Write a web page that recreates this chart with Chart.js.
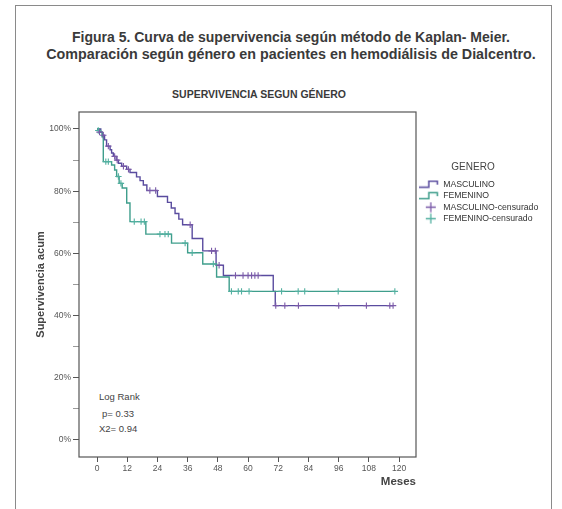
<!DOCTYPE html>
<html>
<head>
<meta charset="utf-8">
<script src="https://cdn.jsdelivr.net/npm/chart.js@4/dist/chart.umd.min.js"></script>
<style>
  html,body{margin:0;padding:0;background:#fff;}
  body{width:562px;height:509px;position:relative;overflow:hidden;font-family:"Liberation Sans",Arial,sans-serif;}
  #frame{position:absolute;left:15px;top:5px;width:537px;height:520px;border:1.5px solid #8a8a8a;box-sizing:border-box;}
  .t{position:absolute;white-space:nowrap;color:#3a3a3a;}
  #c{position:absolute;left:0;top:0;}
</style>
</head>
<body>
<div id="frame"></div>
<div class="t" id="t1" style="left:0;width:582px;text-align:center;top:29px;font-weight:bold;font-size:14px;">Figura 5. Curva de supervivencia según método de Kaplan- Meier.</div>
<div class="t" id="t2" style="left:0;width:582px;text-align:center;top:46px;font-weight:bold;font-size:14.3px;">Comparación según género en pacientes en hemodiálisis de Dialcentro.</div>
<div class="t" id="t3" style="left:0;width:518px;text-align:center;top:88px;font-weight:bold;font-size:10.5px;">SUPERVIVENCIA SEGUN GÉNERO</div>
<div class="t" style="left:99px;top:391px;font-size:9.5px;color:#444;">Log Rank</div>
<div class="t" style="left:102px;top:408px;font-size:9.5px;color:#444;">p= 0.33</div>
<div class="t" style="left:99px;top:423px;font-size:9.5px;color:#444;">X2= 0.94</div>
<canvas id="c" width="562" height="509"></canvas>
<script>
// ---- data (months, % cumulative survival) ----
const mascEventMonths = [0, 1.5, 2.2, 3, 3.8, 5.2, 5.8, 6.5, 7.6, 8.5, 9.8, 11.8, 13.1, 15.7, 17.1, 18.4, 19.8, 24, 28, 29.5, 31, 32.5, 34, 37.8, 42, 47.3, 50.2, 70, 70.8, 117.6];
const mascSurvival    = [100, 99, 98, 96.5, 94.5, 93.3, 92.3, 91.2, 90, 89, 88, 87, 86, 84.6, 83.4, 82, 80.2, 78.3, 76.4, 74.6, 72.8, 71, 69.2, 64.8, 60.8, 56.2, 52.9, 47.8, 43.2, 43.2];

const femEventMonths  = [0, 1, 2, 2.5, 5.8, 7, 7.8, 8.8, 10, 11.8, 13.1, 19.4, 29.6, 36, 42, 47.5, 52.5, 118.3];
const femSurvival     = [100, 99, 97.5, 89.5, 88.4, 86.8, 84.7, 82.5, 81, 76.2, 70.2, 66.2, 63.3, 60.2, 56.6, 52.4, 47.8, 47.8];

const mascCensorMonths = [1, 2.5, 4.5, 7, 8, 10.5, 12.5, 21, 23.3, 37, 45.5, 47, 48.5, 55, 58, 60, 61.4, 62.7, 64, 71, 74.6, 80, 96, 107, 116.3, 117.6];
const mascCensorSurv   = [99, 98, 94.5, 91.2, 90, 88, 87, 80.2, 80.2, 69.2, 60.8, 60.8, 56.2, 52.9, 52.9, 52.9, 52.9, 52.9, 52.9, 43.2, 43.2, 43.2, 43.2, 43.2, 43.2, 43.2];

const femCensorMonths  = [0.5, 3.5, 4.5, 8.5, 9.5, 14.8, 17.5, 18.8, 25, 27, 28.3, 35, 37.8, 46.2, 53.4, 56.1, 57.4, 60.4, 73.3, 79.9, 82.5, 95.8, 118.3];
const femCensorSurv    = [99.5, 89.5, 89.5, 84.7, 82.5, 70.2, 70.2, 70.2, 66.2, 66.2, 66.2, 63.3, 60.2, 56.6, 47.8, 47.8, 47.8, 47.8, 47.8, 47.8, 47.8, 47.8, 47.8];

const xTickValues = [0, 12, 24, 36, 48, 60, 72, 84, 96, 108, 120];
const yTickValues = [0, 10, 20, 30, 40, 50, 60, 70, 80, 90, 100];
const seriesNames = ['MASCULINO', 'FEMENINO', 'MASCULINO-censurado', 'FEMENINO-censurado'];
const legendTitle = 'GENERO';
const xTitle = 'Meses';
const yTitle = 'Supervivencia acum';

// ---- styles ----
const PURPLE = '#5a4c9f';
const PURPLE_C = '#7a5aa8';
const TEAL = '#3f9e8c';
const TEAL_C = '#52b0a0';
const FONT = '"Liberation Sans", Arial, sans-serif';

const pts = (xs, ys) => xs.map((x, i) => ({x: x, y: ys[i]}));

function stepIcon(color){
  const c = document.createElement('canvas'); c.width = 20; c.height = 9;
  const g = c.getContext('2d'); g.strokeStyle = color; g.lineWidth = 1.5;
  g.beginPath(); g.moveTo(0, 7.5); g.lineTo(10, 7.5); g.lineTo(10, 1.5); g.lineTo(18.5, 1.5); g.lineTo(18.5, 5); g.stroke();
  return c;
}
function crossIcon(color){
  const c = document.createElement('canvas'); c.width = 20; c.height = 11;
  const g = c.getContext('2d'); g.strokeStyle = color; g.lineWidth = 1.3;
  g.beginPath(); g.moveTo(7, 5.5); g.lineTo(17, 5.5); g.moveTo(12, 0.5); g.lineTo(12, 10.5); g.stroke();
  return c;
}
const legendIcons = [stepIcon(PURPLE), stepIcon(TEAL), crossIcon(PURPLE_C), crossIcon(TEAL_C)];

const framePlugin = {
  id: 'frame',
  beforeDatasetsDraw(chart){
    const a = chart.chartArea, g = chart.ctx;
    g.save(); g.strokeStyle = '#555'; g.lineWidth = 1.2;
    g.strokeRect(a.left, a.top, a.right - a.left, a.bottom - a.top);
    g.restore();
  }
};
// legend box kept narrow (so its title centres like the original) but drawn without clipping
const legendWidthPlugin = {
  id: 'legendWidth',
  beforeLayout(chart){
    const lg = chart.legend;
    if (lg && !lg._fixed){
      const f = lg.fit.bind(lg);
      lg.fit = function(){ f(); this.width = 114; };
      lg.draw = function(){ if (this.options.display) this._draw(); };
      lg._fixed = true;
    }
  }
};

new Chart(document.getElementById('c'), {
  type: 'line',
  data: {
    datasets: [
      {label: seriesNames[0], data: pts(mascEventMonths, mascSurvival), stepped: 'before', borderColor: PURPLE, borderWidth: 1.4, pointRadius: 0, fill: false, order: 2},
      {label: seriesNames[1], data: pts(femEventMonths, femSurvival), stepped: 'before', borderColor: TEAL, borderWidth: 1.4, pointRadius: 0, fill: false, order: 1},
      {label: seriesNames[2], type: 'scatter', data: pts(mascCensorMonths, mascCensorSurv), pointStyle: 'cross', pointRadius: 3.2, borderColor: PURPLE_C, borderWidth: 1.1, showLine: false, order: 0},
      {label: seriesNames[3], type: 'scatter', data: pts(femCensorMonths, femCensorSurv), pointStyle: 'cross', pointRadius: 3.2, borderColor: TEAL_C, borderWidth: 1.1, showLine: false, order: 0}
    ]
  },
  options: {
    responsive: false,
    animation: false,
    devicePixelRatio: 1,
    layout: {padding: {top: 112, left: 0, right: 32, bottom: 0}},
    plugins: {
      tooltip: {enabled: false},
      legend: {
        position: 'right',
        align: 'start',
        title: {display: true, text: legendTitle, color: '#444', font: {family: FONT, size: 10}, padding: {top: 50, bottom: 3}},
        labels: {
          usePointStyle: true,
          pointStyleWidth: 20,
          padding: 2.8,
          color: '#333',
          font: {family: FONT, size: 8.7},
          generateLabels(chart){
            return chart.data.datasets.map((d, i) => ({
              text: d.label, pointStyle: legendIcons[i], fillStyle: 'transparent', strokeStyle: 'transparent',
              lineWidth: 0, hidden: false, datasetIndex: i, fontColor: '#333'
            }));
          }
        }
      }
    },
    scales: {
      x: {
        type: 'linear', min: -7.15, max: 126.7,
        afterFit(s){ s.height = 52; },
        afterBuildTicks(s){ s.ticks = xTickValues.map(v => ({value: v})); },
        border: {display: false},
        grid: {drawOnChartArea: false, drawTicks: true, tickLength: 5, color: '#555', tickWidth: 1},
        ticks: {color: '#555', font: {family: FONT, size: 8.5}, padding: 2, maxRotation: 0, callback: v => String(v)},
        title: {display: true, text: xTitle, align: 'end', color: '#444', font: {family: FONT, size: 11.5, weight: 'bold'}, padding: {top: 0, bottom: 20}}
      },
      y: {
        type: 'linear', min: -5.47, max: 105.46,
        afterFit(s){ s.width = 79; },
        afterBuildTicks(s){ s.ticks = yTickValues.map(v => ({value: v})); },
        border: {display: false},
        grid: {drawOnChartArea: false, drawTicks: true, tickLength: 6, color: (c) => (c.tick && c.tick.value % 20 === 0) ? '#555' : '#999', tickWidth: 1},
        ticks: {color: '#555', font: {family: FONT, size: 8.5}, padding: 2, callback: v => (v % 20 === 0 ? v + '%' : '')},
        title: {display: true, text: yTitle, color: '#444', font: {family: FONT, size: 11, weight: 'bold'}, padding: {top: 34, bottom: 0}}
      }
    }
  },
  plugins: [legendWidthPlugin, framePlugin]
});
</script>
</body>
</html>
